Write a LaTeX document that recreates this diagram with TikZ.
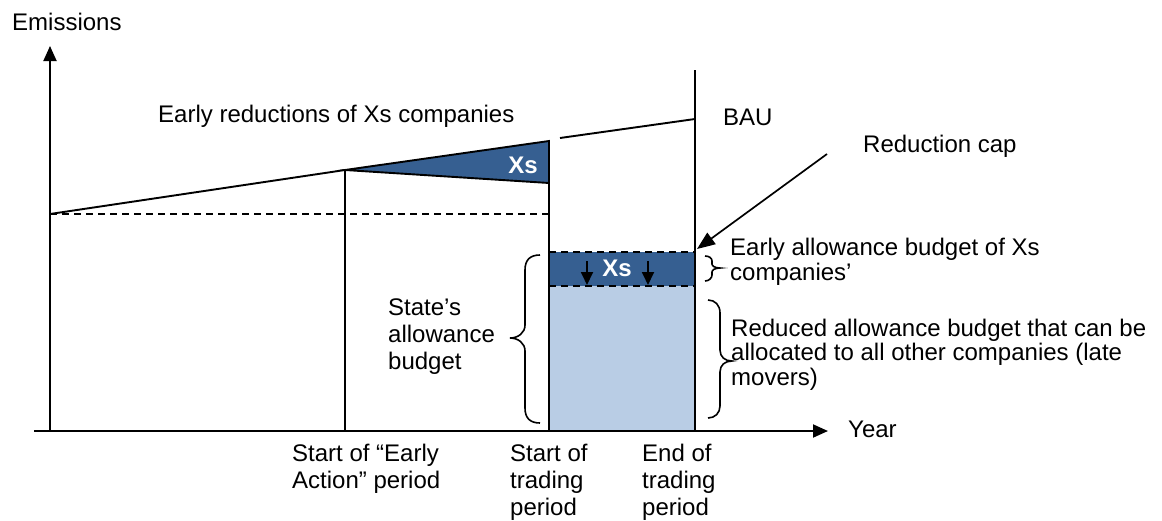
\documentclass[tikz,border=0pt]{standalone}
\usepackage{fontspec}
\setmainfont{Liberation Sans}
\usetikzlibrary{arrows.meta}
\definecolor{xsblue}{HTML}{365F91}
\definecolor{budgetblue}{HTML}{B9CDE5}
\begin{document}
\begin{tikzpicture}[x=1pt,y=-1pt,
  line/.style={line width=1.9pt,line cap=butt},
  dashline/.style={line width=1.5pt,dash pattern=on 7pt off 5pt},
  lbl/.style={anchor=base west,inner sep=0pt,align=left,font=\fontsize{24}{24.5}\selectfont},
  widelbl/.style={lbl,font=\fontsize{24}{27}\selectfont},
  xslbl/.style={inner sep=0pt,text=white,font=\fontsize{24}{25}\selectfont\bfseries},
  bigtip/.style={-{Triangle[length=15pt,width=13pt]}},
  smalltip/.style={-{Triangle[length=13pt,width=12pt]}},
  bracepath/.style={line width=1.6pt}]
\useasboundingbox (0,0) rectangle (1162,520);

% axis and reference points
\coordinate (origin) at (50,431);
\coordinate (xstart) at (34,431);
\coordinate (xend) at (828,431);
\coordinate (ytop) at (50,46);
\coordinate (bau0) at (50,214);
\coordinate (ea) at (345,170);
\coordinate (ts) at (549,141);
\coordinate (tsb) at (549,183);
\coordinate (bau1) at (560,138);
\coordinate (te) at (695,119);
\coordinate (tetop) at (695,70);
\coordinate (eabot) at (345,431);
\coordinate (tsbot) at (549,431);
\coordinate (tebot) at (695,431);
\coordinate (dash0) at (549,214);
\coordinate (capL) at (549,252);
\coordinate (capR) at (695,252);
\coordinate (redL) at (549,286);
\coordinate (redR) at (695,286);
\coordinate (captail) at (827,154);
\coordinate (captip) at (697,249);

% budget blocks
\fill[budgetblue] (redL) rectangle (tebot);
\fill[xsblue] (capL) rectangle (redR);
\draw[dashline] (capL) -- (capR);
\draw[dashline] (redL) -- (redR);

% early reduction wedge
\filldraw[xsblue,draw=black,line width=1.9pt,line join=miter] (ea) -- (ts) -- (tsb) -- cycle;
\node[xslbl] (xs1) at (523,165) {Xs};

% BAU emissions path and starting level
\draw[line] (bau0) -- (ea);
\draw[line] (bau1) -- (te);
\draw[dashline] (bau0) -- (dash0);

% period boundaries
\draw[line] (ea) -- (eabot);
\draw[line] (ts) -- (tsbot);
\draw[line] (tetop) -- (tebot);

% axes
\draw[line,bigtip] (origin) -- (ytop);
\draw[line,bigtip] (xstart) -- (xend);

% shifting of the Xs budget
\node[xslbl] (xs2) at (617,268) {Xs};
\coordinate (a1s) at (587,261);
\coordinate (a1e) at (587,285);
\coordinate (a2s) at (648,261);
\coordinate (a2e) at (648,285);
\draw[line width=1.8pt,smalltip] (a1s) -- (a1e);
\draw[line width=1.8pt,smalltip] (a2s) -- (a2e);

% reduction cap pointer
\draw[line width=1.7pt,-{Triangle[length=18pt,width=14pt]}] (captail) -- (captip);

% braces
\draw[bracepath] (540,255) .. controls (530,255) and (525,260) .. (525,270) -- (525,325)
  .. controls (525,333) and (518,338) .. (510,338)
  .. controls (518,338) and (525,343) .. (525,351) -- (525,408)
  .. controls (525,418) and (530,423) .. (540,423);
\draw[bracepath] (705,256) .. controls (709,256) and (712,258) .. (712,261) -- (712,264)
  .. controls (712,266) and (715,268) .. (720,268)
  .. controls (715,268) and (712,270) .. (712,272) -- (712,275)
  .. controls (712,278) and (709,281) .. (705,281);
\draw[bracepath] (708,300) .. controls (715,300) and (720,305) .. (720,313) -- (720,350)
  .. controls (720,357) and (725,361) .. (732,361)
  .. controls (725,361) and (720,365) .. (720,372) -- (720,406)
  .. controls (720,413) and (715,418) .. (708,418);

% labels (anchored at the baseline of their last line)
\node[lbl] (emis) at (12,30) {Emissions};
\node[lbl] (early) at (158,122) {Early reductions of Xs companies};
\node[lbl] (bau) at (723,125) {BAU};
\node[lbl] (cap) at (863,152) {Reduction cap};
\node[lbl] (xsbudget) at (730,280) {Early allowance budget of Xs\\companies’};
\node[widelbl] (state) at (388,369) {State’s\\allowance\\budget};
\node[lbl] (reduced) at (731,385) {Reduced allowance budget that can be\\allocated to all other companies (late\\movers)};
\node[lbl] (year) at (848,437) {Year};
\node[widelbl] (eastart) at (292,488) {Start of “Early\\Action” period};
\node[widelbl] (tstart) at (510,515) {Start of\\trading\\period};
\node[widelbl] (tend) at (642,515) {End of\\trading\\period};
\end{tikzpicture}
\end{document}
